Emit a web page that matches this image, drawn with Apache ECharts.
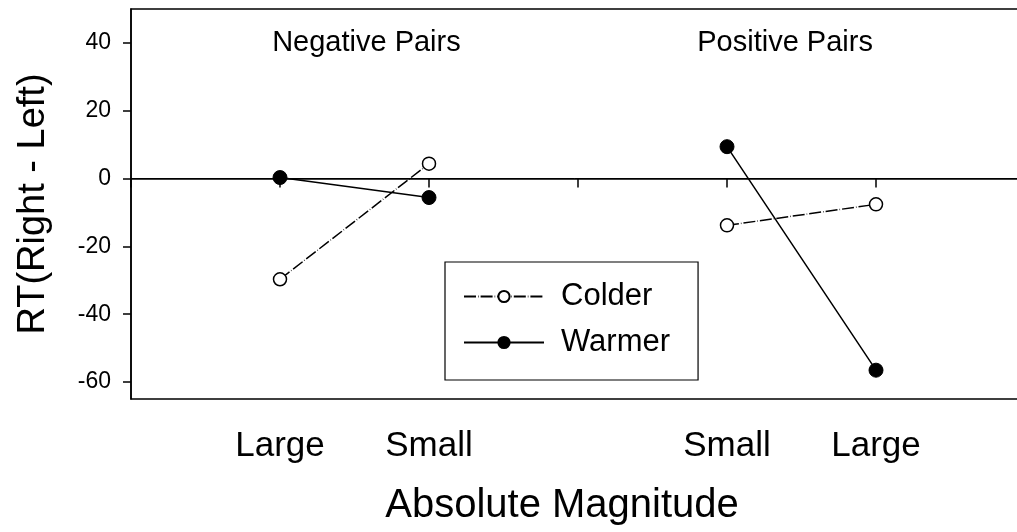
<!DOCTYPE html>
<html><head><meta charset="utf-8">
<script src="https://cdn.jsdelivr.net/npm/echarts@6/dist/echarts.min.js"></script>
<style>html,body{margin:0;padding:0;background:#fff}#c{width:1017px;height:532px}</style>
</head><body><div id="c"></div>
<script>
const xPositions = [1, 2, 4, 5];
const colder = [-29.7, 4.4, -13.8, -7.6];
const warmer = [0.3, -5.6, 9.4, -56.5];
const xTickLabels = ['', 'Large', 'Small', '', 'Small', 'Large', ''];
const yTicks = [-60, -40, -20, 0, 20, 40];
const panelLabels = ['Negative Pairs', 'Positive Pairs'];
const panelLabelX = [1.58, 4.39];
const panelLabelY = 40;
const gapX = 3; // break between the two panels

const FONT = '"Liberation Sans", Arial, Helvetica, sans-serif';
const chart = echarts.init(document.getElementById('c'), null, {renderer: 'canvas'});

function withGap(vals) {
  const out = [];
  xPositions.forEach((x, i) => {
    if (i === 2) out.push([gapX, '-']);
    out.push([x, vals[i]]);
  });
  return out;
}

chart.setOption({
  animation: false,
  backgroundColor: '#fff',
  textStyle: {fontFamily: FONT, color: '#000'},
  grid: {left: 131, top: 9, width: 894, height: 390, show: true, borderColor: '#000', borderWidth: 1.5,
    containLabel: false, outerBoundsMode: 'none'},
  xAxis: {
    type: 'value', min: 0, max: 6, interval: 1,
    axisLine: {show: true, lineStyle: {color: '#000', width: 1.5}},
    axisTick: {show: true, inside: false, length: 9, lineStyle: {color: '#000', width: 1.5}},
    splitLine: {show: false},
    axisLabel: {margin: 30, fontSize: 35, fontFamily: FONT, color: '#000',
      formatter: v => xTickLabels[Math.round(v)] || ''},
    name: 'Absolute Magnitude', nameLocation: 'middle', nameGap: 87,
    nameTextStyle: {fontSize: 40, fontFamily: FONT, color: '#000', padding: [0, 32, 0, 0]}
  },
  yAxis: {
    type: 'value', min: -65, max: 50,
    axisLine: {show: true, lineStyle: {color: '#000', width: 1.5}},
    axisTick: {show: true, inside: false, length: 8, lineStyle: {color: '#000', width: 1.5}, customValues: yTicks},
    splitLine: {show: false},
    axisLabel: {margin: 20, fontSize: 23, fontFamily: FONT, color: '#000', customValues: yTicks},
    name: 'RT(Right - Left)', nameLocation: 'middle', nameGap: 78,
    nameTextStyle: {fontSize: 38, fontFamily: FONT, color: '#000'}
  },
  legend: {
    data: ['Colder', 'Warmer'], orient: 'vertical', left: 445, top: 262,
    itemWidth: 80, itemHeight: 14, itemGap: 15,
    padding: [19, 28, 22, 18], borderColor: '#000', borderWidth: 1.2,
    textStyle: {fontSize: 31, fontFamily: FONT, color: '#000', lineHeight: 30, padding: [0, 0, 0, 12]}
  },
  series: [
    {
      name: 'Colder', type: 'line', connectNulls: false,
      data: withGap(colder),
      symbol: 'circle', symbolSize: 13,
      itemStyle: {color: '#fff', borderColor: '#000', borderWidth: 1.5},
      lineStyle: {color: '#000', width: 1.5, type: [12, 2, 0.6, 2]},
      z: 3
    },
    {
      name: 'Warmer', type: 'line', connectNulls: false,
      data: withGap(warmer),
      symbol: 'circle', symbolSize: 14,
      itemStyle: {color: '#000', borderColor: '#000', borderWidth: 1},
      lineStyle: {color: '#000', width: 1.5, type: 'solid'},
      z: 4,
      markLine: {
        silent: true, symbol: ['none', 'none'], label: {show: false},
        lineStyle: {color: '#000', width: 1, type: 'solid'},
        data: [{yAxis: 0}]
      },
      markPoint: {
        silent: true, symbol: 'circle', symbolSize: 0,
        label: {show: true, position: 'inside', formatter: '{b}', fontSize: 29, fontFamily: FONT, color: '#000'},
        data: panelLabels.map((n, i) => ({name: n, coord: [panelLabelX[i], panelLabelY]}))
      }
    }
  ]
});
</script></body></html>
